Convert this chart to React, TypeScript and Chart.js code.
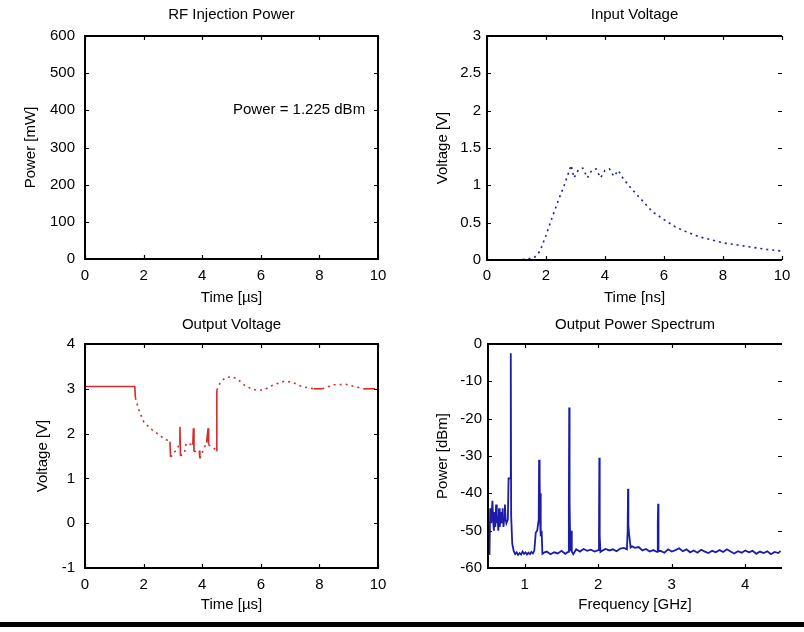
import React, { useEffect, useRef } from 'react';
import { Chart, registerables } from 'chart.js';

Chart.register(...registerables);

const FONT = "'Liberation Sans', Arial, Helvetica, sans-serif";
const FS = 15;

// ---------- RF Injection Power (empty axes) ----------
const rfXTicks = [0, 2, 4, 6, 8, 10];
const rfYTicks = [0, 100, 200, 300, 400, 500, 600];
const rfAnnotation = 'Power = 1.225 dBm';
const rfAnnotationPos = [5.05, 400];

// ---------- Input Voltage ----------
const inXTicks = [0, 2, 4, 6, 8, 10];
const inYTicks = [0, 0.5, 1, 1.5, 2, 2.5, 3];
const inTime = [
  1.0, 1.3, 1.6, 1.8, 2.0, 2.2, 2.4, 2.6, 2.75, 2.85,
  2.95, 3.1, 3.25, 3.4, 3.55, 3.7, 3.85, 4.0, 4.15, 4.3,
  4.45, 4.6, 4.8, 5.0, 5.3, 5.6, 6.0, 6.4, 6.8, 7.2,
  7.6, 8.0, 8.5, 9.0, 9.5, 10.0,
];
const inVolt = [
  0.0, 0.01, 0.03, 0.12, 0.33, 0.56, 0.78, 0.98, 1.15, 1.27,
  1.1, 1.21, 1.23, 1.1, 1.2, 1.22, 1.1, 1.2, 1.22, 1.12,
  1.2, 1.1, 1.0, 0.91, 0.78, 0.65, 0.54, 0.44, 0.37, 0.31,
  0.27, 0.23, 0.2, 0.17, 0.14, 0.12,
];

// ---------- Output Voltage ----------
const outXTicks = [0, 2, 4, 6, 8, 10];
const outYTicks = [-1, 0, 1, 2, 3, 4];
const outTime = [
  0, 1.7, 1.72, 1.82, 2.0, 2.22, 2.45, 2.67, 2.9, 2.92,
  3.1, 3.22, 3.24, 3.26, 3.4, 3.45, 3.68, 3.7, 3.72, 3.9,
  3.92, 4.05, 4.15, 4.2, 4.22, 4.45, 4.48, 4.5, 4.62, 4.8,
  5.0, 5.2, 5.5, 5.8, 6.1, 6.4, 6.8, 7.1, 7.4, 7.8,
  8.1, 8.5, 8.9, 9.2, 9.5, 9.9,
];
const outVolt = [
  3.05, 3.05, 2.8, 2.56, 2.27, 2.12, 2.01, 1.9, 1.82, 1.48,
  1.62, 1.75, 2.15, 1.5, 1.58, 1.78, 1.75, 2.12, 1.6, 1.62,
  1.45, 1.65, 1.8, 2.12, 1.75, 1.65, 1.62, 2.97, 3.15, 3.25,
  3.27, 3.22, 3.05, 2.98, 2.97, 3.08, 3.17, 3.14, 3.05, 3.0,
  3.0, 3.09, 3.1, 3.05, 3.0, 3.0,
];

// ---------- Output Power Spectrum ----------
const specXTicks = [1, 2, 3, 4];
const specYTicks = [-60, -50, -40, -30, -20, -10, 0];
const specFreq = [
  0.52, 0.53, 0.545, 0.56, 0.57, 0.58, 0.59, 0.60, 0.61, 0.62,
  0.63, 0.64, 0.65, 0.66, 0.67, 0.68, 0.69, 0.70, 0.71, 0.72,
  0.73, 0.74, 0.75, 0.77, 0.78, 0.80, 0.81, 0.815, 0.82, 0.83,
  0.85, 0.87, 0.89, 0.91, 0.93, 0.95, 0.97, 0.99, 1.01, 1.03,
  1.05, 1.07, 1.09, 1.11, 1.13, 1.15, 1.17, 1.19, 1.195, 1.2,
  1.205, 1.21, 1.215, 1.22, 1.23, 1.24, 1.27, 1.30, 1.35, 1.40,
  1.45, 1.50, 1.55, 1.59, 1.60, 1.605, 1.61, 1.62, 1.63, 1.64,
  1.66, 1.70, 1.75, 1.80, 1.85, 1.90, 1.95, 2.00, 2.01, 2.015,
  2.02, 2.03, 2.05, 2.10, 2.15, 2.20, 2.25, 2.30, 2.35, 2.39,
  2.40, 2.405, 2.41, 2.42, 2.44, 2.46, 2.50, 2.55, 2.60, 2.65,
  2.70, 2.75, 2.80, 2.81, 2.815, 2.82, 2.85, 2.90, 2.95, 3.00,
  3.05, 3.10, 3.15, 3.20, 3.25, 3.30, 3.35, 3.40, 3.45, 3.50,
  3.55, 3.60, 3.65, 3.70, 3.75, 3.80, 3.85, 3.90, 3.95, 4.00,
  4.05, 4.10, 4.15, 4.20, 4.25, 4.30, 4.35, 4.40, 4.45, 4.48,
];
const specPow = [
  -56.5, -44, -48, -42, -47, -50, -45, -49, -43, -48,
  -46, -50, -44, -49, -47, -45, -48, -44, -49, -47,
  -43, -47, -48, -47, -36, -36, -2.5, -46, -46, -53.5,
  -55.5, -56.3, -55.8, -56.5, -56, -56.4, -55.6, -56.2, -55.8, -56.4,
  -55.9, -56.3, -55.7, -56.1, -55.4, -50.5, -50, -47, -31, -43,
  -36, -48, -40, -51.5, -50, -56.2, -55.8, -55.6, -56.3, -55.8,
  -56.1, -55.4, -56.2, -55.7, -42.5, -17, -42, -55.5, -50, -55.6,
  -56.3, -55.0, -55.6, -54.9, -55.4, -55.1, -55.6, -55.2, -50, -30.5,
  -51.5, -55.7, -55.4, -54.9, -55.3, -55.0, -55.5, -54.8, -54.6, -55.0,
  -50, -38.8, -48.5, -51, -54.5, -54.2, -54.6, -54.4, -55.3, -54.9,
  -55.6, -55.2, -55.7, -48, -42.8, -55.5, -55.4, -55.9, -55.0, -55.6,
  -55.2, -54.7, -55.5, -55.0, -55.8, -55.3, -55.9, -55.1, -55.6, -56.0,
  -55.4, -55.8, -55.2, -55.7, -55.0, -55.6, -56.1, -55.5, -55.9, -55.3,
  -55.8, -55.4, -56.2, -55.6, -56.0, -55.5, -56.3, -55.7, -56.0, -55.4,
];

const BLUE = '#1c1caa';
const RED = '#d42a2a';

const toPoints = (xs: number[], ys: number[]) => xs.map((x, i) => ({ x, y: ys[i] }));

function framePlugin(rightBorder: boolean) {
  return {
    id: 'frame',
    afterDatasetsDraw(chart: any) {
      const { ctx, chartArea: a, scales } = chart;
      const x = scales.x;
      const y = scales.y;
      ctx.save();
      ctx.strokeStyle = '#000';
      ctx.lineWidth = 2;
      ctx.beginPath();
      ctx.moveTo(a.left, a.top);
      ctx.lineTo(a.right, a.top);
      ctx.moveTo(a.left - 1, a.bottom);
      ctx.lineTo(a.right + (rightBorder ? 1 : 0), a.bottom);
      ctx.moveTo(a.left, a.top - 1);
      ctx.lineTo(a.left, a.bottom);
      if (rightBorder) {
        ctx.moveTo(a.right, a.top - 1);
        ctx.lineTo(a.right, a.bottom);
      }
      ctx.stroke();
      ctx.lineWidth = 1.2;
      const L = 4;
      ctx.beginPath();
      x.ticks.forEach((t: any) => {
        const p = Math.round(x.getPixelForValue(t.value)) + 0.5;
        ctx.moveTo(p, a.bottom);
        ctx.lineTo(p, a.bottom - L);
        ctx.moveTo(p, a.top);
        ctx.lineTo(p, a.top + L);
      });
      y.ticks.forEach((t: any) => {
        const p = Math.round(y.getPixelForValue(t.value)) + 0.5;
        ctx.moveTo(a.left, p);
        ctx.lineTo(a.left + L, p);
        ctx.moveTo(a.right, p);
        ctx.lineTo(a.right - L, p);
      });
      ctx.stroke();
      ctx.restore();
    },
  };
}

type PanelSpec = {
  title: string;
  titlePad: { top: number; bottom: number };
  xTitle: string;
  yTitle: string;
  xMin: number; xMax: number; xTicks: number[];
  yMin: number; yMax: number; yTicks: number[];
  yWidth: number; xHeight: number; padRight: number;
  yTitlePad: number; xTitlePad: number;
  yTickPad: number; xTickPad: number;
  rightBorder: boolean;
  datasets: any[];
  extraPlugins?: any[];
};

function buildConfig(s: PanelSpec) {
  const font = { family: FONT, size: FS, weight: 'normal' as const, lineHeight: 1.2 };
  return {
    type: 'line' as const,
    data: { datasets: s.datasets },
    options: {
      animation: false,
      responsive: false,
      devicePixelRatio: 1,
      layout: { padding: { left: 0, right: s.padRight, top: 0, bottom: 0 } },
      plugins: {
        legend: { display: false },
        tooltip: { enabled: false },
        title: {
          display: true,
          text: s.title,
          color: '#000',
          font,
          fullSize: false,
          padding: s.titlePad,
        },
      },
      scales: {
        x: {
          type: 'linear',
          min: s.xMin,
          max: s.xMax,
          grid: { display: false, drawTicks: false },
          border: { display: false },
          ticks: {
            color: '#000', font, padding: s.xTickPad, maxRotation: 0, autoSkip: false,
            callback: (v: any) => String(v),
          },
          afterBuildTicks: (sc: any) => { sc.ticks = s.xTicks.map((v) => ({ value: v })); },
          afterFit: (sc: any) => { sc.height = s.xHeight; },
          title: { display: true, text: s.xTitle, color: '#000', font, padding: { top: 0, bottom: s.xTitlePad } },
        },
        y: {
          type: 'linear',
          min: s.yMin,
          max: s.yMax,
          grid: { display: false, drawTicks: false },
          border: { display: false },
          ticks: {
            color: '#000', font, padding: s.yTickPad, autoSkip: false,
            callback: (v: any) => String(v),
          },
          afterBuildTicks: (sc: any) => { sc.ticks = s.yTicks.map((v) => ({ value: v })); },
          afterFit: (sc: any) => { sc.width = s.yWidth; },
          title: { display: true, text: s.yTitle, color: '#000', font, padding: { top: s.yTitlePad, bottom: 0 } },
        },
      },
    },
    plugins: [framePlugin(s.rightBorder), ...(s.extraPlugins || [])],
  };
}

const annotationPlugin = {
  id: 'rfAnnotation',
  afterDraw(chart: any) {
    const { ctx, scales } = chart;
    ctx.save();
    ctx.fillStyle = '#000';
    ctx.font = `${FS}px ${FONT}`;
    ctx.textAlign = 'left';
    ctx.textBaseline = 'middle';
    ctx.fillText(
      rfAnnotation,
      scales.x.getPixelForValue(rfAnnotationPos[0]),
      scales.y.getPixelForValue(rfAnnotationPos[1])
    );
    ctx.restore();
  },
};

const panels: { left: number; top: number; spec: PanelSpec }[] = [
  {
    left: 0, top: 0,
    spec: {
      title: 'RF Injection Power', titlePad: { top: 6, bottom: 12 },
      xTitle: 'Time [µs]', yTitle: 'Power [mW]',
      xMin: 0, xMax: 10, xTicks: rfXTicks,
      yMin: 0, yMax: 600, yTicks: rfYTicks,
      yWidth: 85, xHeight: 57, padRight: 24,
      yTitlePad: 22, xTitlePad: 9, yTickPad: 10, xTickPad: 8,
      rightBorder: true,
      datasets: [],
      extraPlugins: [annotationPlugin],
    },
  },
  {
    left: 402, top: 0,
    spec: {
      title: 'Input Voltage', titlePad: { top: 6, bottom: 12 },
      xTitle: 'Time [ns]', yTitle: 'Voltage [V]',
      xMin: 0, xMax: 10, xTicks: inXTicks,
      yMin: 0, yMax: 3, yTicks: inYTicks,
      yWidth: 85, xHeight: 56, padRight: 22,
      yTitlePad: 32, xTitlePad: 9, yTickPad: 6, xTickPad: 7,
      rightBorder: false,
      datasets: [
        {
          data: toPoints(inTime, inVolt),
          borderColor: BLUE,
          borderWidth: 1.6,
          borderDash: [2, 4],
          pointRadius: 0,
          tension: 0,
          fill: false,
        },
      ],
    },
  },
  {
    left: 0, top: 316,
    spec: {
      title: 'Output Voltage', titlePad: { top: 0, bottom: 10 },
      xTitle: 'Time [µs]', yTitle: 'Voltage [V]',
      xMin: 0, xMax: 10, xTicks: outXTicks,
      yMin: -1, yMax: 4, yTicks: outYTicks,
      yWidth: 85, xHeight: 64, padRight: 24,
      yTitlePad: 34, xTitlePad: 18, yTickPad: 10, xTickPad: 8,
      rightBorder: true,
      datasets: [
        {
          data: toPoints(outTime, outVolt),
          borderColor: RED,
          borderWidth: 1.6,
          pointRadius: 0,
          tension: 0,
          fill: false,
          segment: {
            borderDash: (c: any) => {
              const dx = Math.abs(c.p1.parsed.x - c.p0.parsed.x);
              const dy = Math.abs(c.p1.parsed.y - c.p0.parsed.y);
              if (dy < 1e-6 || dx < 1e-9 || dy / dx > 5) return undefined;
              return [2, 4];
            },
          },
        },
      ],
    },
  },
  {
    left: 402, top: 316,
    spec: {
      title: 'Output Power Spectrum', titlePad: { top: 0, bottom: 10 },
      xTitle: 'Frequency [GHz]', yTitle: 'Power [dBm]',
      xMin: 0.5, xMax: 4.5, xTicks: specXTicks,
      yMin: -60, yMax: 0, yTicks: specYTicks,
      yWidth: 86, xHeight: 64, padRight: 22,
      yTitlePad: 32, xTitlePad: 18, yTickPad: 6, xTickPad: 8,
      rightBorder: false,
      datasets: [
        {
          data: toPoints(specFreq, specPow),
          borderColor: BLUE,
          borderWidth: 1.8,
          pointRadius: 0,
          tension: 0,
          fill: false,
        },
      ],
    },
  },
];

function Panel({ left, top, spec }: { left: number; top: number; spec: PanelSpec }) {
  const ref = useRef<HTMLCanvasElement>(null);
  useEffect(() => {
    const chart = new Chart(ref.current as HTMLCanvasElement, buildConfig(spec) as any);
    return () => chart.destroy();
  }, []);
  return (
    <canvas
      ref={ref}
      width={402}
      height={316}
      style={{ position: 'absolute', left, top, width: 402, height: 316 }}
    />
  );
}

export default function App() {
  return (
    <div
      style={{
        position: 'absolute',
        left: 0,
        top: 0,
        width: 804,
        height: 632,
        background: '#fff',
        overflow: 'hidden',
      }}
    >
      {panels.map((p, i) => (
        <Panel key={i} left={p.left} top={p.top} spec={p.spec} />
      ))}
      <div
        style={{ position: 'absolute', left: 0, top: 622, width: 804, height: 5, background: '#000' }}
      />
    </div>
  );
}
